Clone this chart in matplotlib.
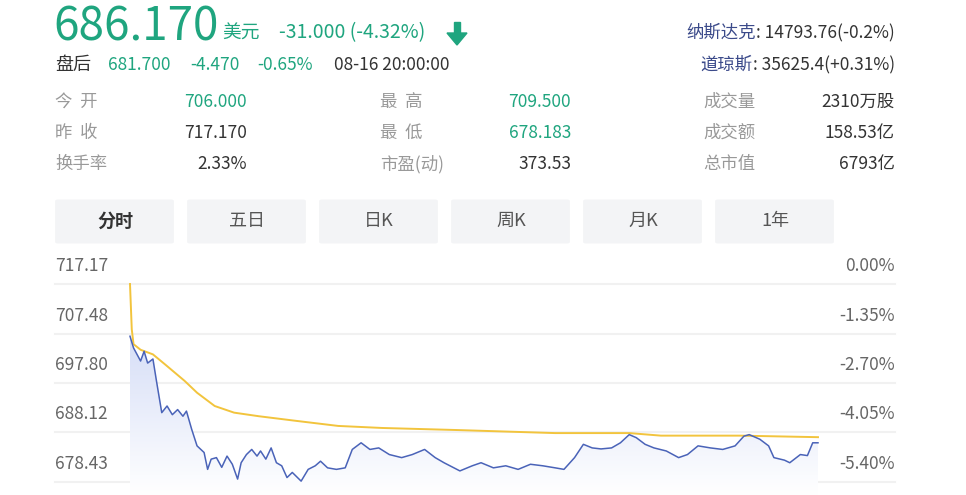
import matplotlib
matplotlib.use("Agg")
import matplotlib.pyplot as plt
import numpy as np
from matplotlib.patches import FancyBboxPatch, Polygon

plt.rcParams['font.family'] = ['Noto Sans CJK SC', 'DejaVu Sans']

# ---------------------------------------------------------------------------
# Data
# ---------------------------------------------------------------------------
price_min = [0, 2, 6, 8, 10, 13, 15, 18, 21, 24, 27, 30, 32, 35, 38, 42, 44, 46, 49, 52,
             55, 58, 61, 63, 66, 69, 72, 74, 77, 80, 83, 86, 89, 92, 97, 101, 105, 108,
             112, 117, 122, 126, 131, 136, 141, 147, 154, 160, 167, 173, 178, 187, 194,
             199, 206, 213, 220, 227, 234, 241, 246, 252, 257, 262, 267, 273, 278, 283,
             287, 292, 297, 304, 311, 316, 322, 329, 336, 343, 348, 351, 357, 362, 365,
             371, 374, 380, 384, 387, 390]
price = [706.95, 704.67, 702.1, 704.0, 701.7, 702.5, 698.2, 692.0, 693.3, 691.6, 692.6,
         691.3, 692.3, 688.7, 685.5, 684.2, 680.9, 682.9, 683.2, 681.3, 683.5, 681.9,
         679.0, 682.2, 683.8, 684.8, 683.5, 684.5, 682.9, 685.1, 682.2, 681.6, 679.3,
         680.3, 678.6, 680.9, 681.6, 682.5, 681.2, 680.9, 681.2, 684.8, 686.1, 684.8,
         685.1, 683.8, 683.2, 683.8, 684.8, 683.2, 682.2, 680.6, 681.6, 682.2, 681.2,
         681.6, 680.9, 681.9, 681.6, 681.2, 680.9, 683.2, 685.8, 685.1, 684.9, 685.1,
         686.1, 687.7, 687.1, 685.8, 685.1, 684.5, 683.2, 683.8, 685.5, 685.1, 684.8,
         685.5, 687.4, 687.7, 686.8, 685.5, 683.2, 682.7, 682.2, 683.8, 683.6, 686.1,
         686.1]

avg_min = [0, 1, 2, 6, 13, 20, 31, 38, 48, 59, 73, 94, 118, 143, 185, 241, 283, 301, 346, 390]
avg_price = [717.17, 708.3, 705.4, 704.3, 703.4, 701.4, 698.2, 695.9, 693.3, 692.0, 691.3,
             690.4, 689.4, 689.0, 688.6, 688.0, 688.0, 687.5, 687.5, 687.2]

prev_close = 717.17
left_ticks = [717.17, 707.48, 697.80, 688.12, 678.43]
right_labels = ["0.00%", "-1.35%", "-2.70%", "-4.05%", "-5.40%"]

tabs = ["分时", "五日", "日K", "周K", "月K", "1年"]

stats = [
    [("今  开", "706.000", True), ("最  高", "709.500", True), ("成交量", "2310万股", False)],
    [("昨  收", "717.170", False), ("最  低", "678.183", True), ("成交额", "158.53亿", False)],
    [("换手率", "2.33%", False), ("市盈(动)", "373.53", False), ("总市值", "6793亿", False)],
]

GREEN = "#1fa57f"
GREY = "#999999"
DARK = "#333333"
W, H = 966, 495

fig = plt.figure(figsize=(W / 100, H / 100), dpi=100)


def px(x, y):
    return x / W, 1 - y / H


def txt(x, y, s, **kw):
    kw.setdefault("va", "center")
    return fig.text(*px(x, y), s, **kw)


# ---------------------------------------------------------------------------
# Header
# ---------------------------------------------------------------------------
txt(53, 27, "686.170", fontsize=33, color=GREEN)
txt(222, 33, "美元", fontsize=13.5, color=GREEN)
txt(279, 33, "-31.000 (-4.32%)", fontsize=14, color=GREEN)
fig.patches.append(Polygon([px(447, 33), px(467, 33), px(457, 45)], closed=True,
                           transform=fig.transFigure, color=GREEN))
fig.patches.append(plt.Rectangle(px(454, 34), 6 / W, 12 / H, transform=fig.transFigure,
                                 color=GREEN))

txt(55, 65, "盘后", fontsize=13, color=DARK)
txt(108, 65, "681.700", fontsize=12.5, color=GREEN)
txt(190, 65, "-4.470", fontsize=12.5, color=GREEN)
txt(257, 65, "-0.65%", fontsize=12.5, color=GREEN)
txt(334, 65, "08-16 20:00:00", fontsize=12.5, color=DARK)

fig.canvas.draw()
renderer = fig.canvas.get_renderer()
for y, lab, val in [(33, "纳斯达克", ": 14793.76(-0.2%)"), (65, "道琼斯", ": 35625.4(+0.31%)")]:
    t = txt(895, y, val, fontsize=12.5, color=DARK, ha="right")
    bb = t.get_window_extent(renderer)
    fig.text(bb.x0 / W, 1 - y / H, lab, fontsize=12.5, color="#3b4a8a", ha="right", va="center")

col_x = [(55, 247), (380, 571), (703, 895)]
for r, row in enumerate(stats):
    y = 102 + r * 31
    for (lx, vx), (lab, val, green) in zip(col_x, row):
        txt(lx, y, lab, fontsize=12.5, color=GREY)
        txt(vx, y, val, fontsize=12.5, color=GREEN if green else DARK, ha="right")

for i, name in enumerate(tabs):
    x0 = 55 + i * 132
    fig.patches.append(FancyBboxPatch(px(x0 + 3, 242), 113 / W, 41 / H,
                                      boxstyle="round,pad=0.003", transform=fig.transFigure,
                                      facecolor="#f3f4f6", edgecolor="none"))
    txt(x0 + 60, 221, name, fontsize=13, color=DARK if i == 0 else "#555555",
        ha="center", weight="bold" if i == 0 else "normal")

# ---------------------------------------------------------------------------
# Chart
# ---------------------------------------------------------------------------
ax = fig.add_axes([0, 0, 1, 215 / H])
ppx = 0.1957  # price per pixel
mpx = 390 / 688  # minutes per pixel
ax.set_xlim(-130 * mpx, 390 + (W - 818) * mpx)
ax.set_ylim(678.43 - 13 * ppx, 717.17 + 4 * ppx)
ax.set_axis_off()

x0g, x1g = -75 * mpx, 390 + 77 * mpx
for v in left_ticks:
    ax.plot([x0g, x1g], [v, v], color="#f1f1f1", lw=1.5, zorder=0)

for v, lab in zip(left_ticks, right_labels):
    y = v + 18 * ppx
    ax.text(x0g, y, f"{v:.2f}", fontsize=12.5, color="#666666", va="center", ha="left")
    ax.text(x1g, y, lab, fontsize=12.5, color="#666666", va="center", ha="right")

# gradient fill under price
pm, pp = np.array(price_min), np.array(price)
ybot = ax.get_ylim()[0]
poly = Polygon(np.column_stack([np.r_[pm[0], pm, pm[-1]], np.r_[ybot, pp, ybot]]),
               closed=True, facecolor="none", edgecolor="none")
ax.add_patch(poly)
grad = np.linspace(0, 1, 256)[:, None]
cmap = matplotlib.colors.LinearSegmentedColormap.from_list("g", ["#ffffff", "#d6def7"])
im = ax.imshow(grad, aspect="auto", cmap=cmap, origin="lower",
               extent=[pm[0], pm[-1], ybot, pp.max()], zorder=1)
im.set_clip_path(poly)

ax.plot(avg_min, avg_price, color="#f2c43d", lw=1.4, zorder=3)
ax.plot(price_min, price, color="#4a63b8", lw=1.1, zorder=4)

fig.savefig("out.png", dpi=100)
